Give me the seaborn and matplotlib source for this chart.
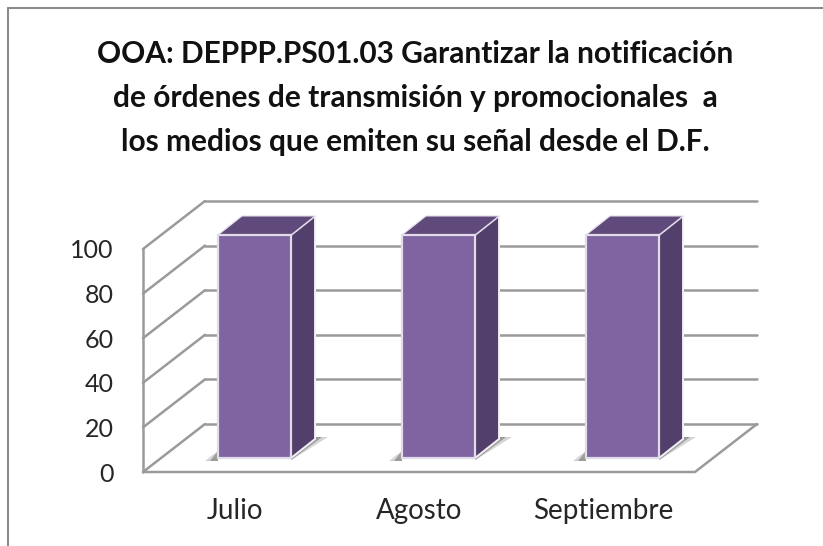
import matplotlib
matplotlib.use("Agg")
import matplotlib.pyplot as plt
import seaborn as sns
from matplotlib.patches import Polygon
from matplotlib.transforms import Affine2D

# === DATA ===
months = ["Julio", "Agosto", "Septiembre"]
values = [100, 100, 100]
y_ticks = [0, 20, 40, 60, 80, 100]
title = ("OOA: DEPPP.PS01.03 Garantizar la notificación\n"
         "de órdenes de transmisión y promocionales  a\n"
         "los medios que emiten su señal desde el D.F.")

# Colours
front_col = "#8063a1"
top_col = "#5f4a7b"
side_col = "#533f6b"
edge_col = "#e2dcea"
grid_col = "#9a9a9a"
text_col = "#262626"

W, H = 823, 546

sns.set_theme(style="white")
plt.rcParams["font.family"] = ["Lato", "DejaVu Sans"]

fig = plt.figure(figsize=(W / 100, H / 100), dpi=100)
# axes is the front plane of the 3D box
ax = fig.add_axes([143 / W, 1 - 472 / H, 552 / W, 223 / H])

sns.barplot(x=months, y=values, color=front_col, saturation=1, width=0.397,
            edgecolor=edge_col, linewidth=1.6, ax=ax, zorder=5)
ax.set_xlim(-0.5, 2.5)
ax.set_ylim(0, 100)
ax.set_yticks(y_ticks)
ax.set_xlabel("")
ax.set_ylabel("")
ax.tick_params(axis="x", length=0, pad=19, labelsize=20, labelcolor=text_col)
ax.tick_params(axis="y", length=0, pad=21, labelsize=18, labelcolor=text_col)
sns.despine(ax=ax, left=True, bottom=True)

# pixel shifts for depth
bar_shift = ax.transData + Affine2D().translate(19.5, 14)
back_shift = ax.transData + Affine2D().translate(62, 48)
px_x = 3 / 552
px_y = 100 / 223

# back wall and left wall lines
for t in y_ticks:
    ax.plot([-0.5, 2.5], [t, t], color=grid_col, lw=1.8, transform=back_shift,
            clip_on=False, zorder=1)
    ax.plot([-0.5, -0.5 + 62 * px_x], [t, t + 48 * px_y], color=grid_col, lw=1.8,
            clip_on=False, zorder=1)
ax.plot([-0.5, -0.5], [0, 100], color=grid_col, lw=1.8, clip_on=False, zorder=2)
ax.plot([-0.5, 2.5, 2.5 + 62 * px_x], [0, 0, 48 * px_y], color=grid_col, lw=1.8,
        clip_on=False, zorder=2)

# 3D faces and floor shadow of the bars
dx = 24 * px_x
dy = 19 * px_y
for bar in ax.patches[:3]:
    bar.set_transform(bar_shift)
    bar.set_clip_on(False)
    x0 = bar.get_x()
    x1 = x0 + bar.get_width()
    h = bar.get_height()
    # soft shadow, two layers
    for reach, grey in [(37, "#d4d4d4"), (31, "#9c9c9c")]:
        ax.add_patch(Polygon([(x1, -1), (x1 + reach * px_x, 21 * px_y), (x1 + dx, 21 * px_y),
                              (x1, 2)], closed=True, fc=grey, ec="none",
                             transform=bar_shift, clip_on=False, zorder=3))
    for reach, grey in [(13, "#d4d4d4"), (8, "#9c9c9c")]:
        ax.add_patch(Polygon([(x0 - reach * px_x, -1.2), (x0, -1.2), (x0, 3)],
                             closed=True, fc=grey, ec="none",
                             transform=bar_shift, clip_on=False, zorder=3))
    ax.add_patch(Polygon([(x1, 0), (x1 + dx, dy), (x1 + dx, h + dy), (x1, h)], closed=True,
                         fc=side_col, ec="#f2eff5", lw=1.4, transform=bar_shift,
                         clip_on=False, zorder=4))
    ax.add_patch(Polygon([(x0, h), (x1, h), (x1 + dx, h + dy), (x0 + dx, h + dy)], closed=True,
                         fc=top_col, ec=edge_col, lw=0.8, transform=bar_shift,
                         clip_on=False, zorder=4))

fig.text(415 / W, 1 - 98 / H, title, ha="center", va="center", fontsize=21.5,
         fontweight="bold", color="#111111", linespacing=1.7)

# frame of the screenshot
fig.add_artist(plt.Line2D([8 / W, 8 / W], [0, 1 - 8 / H], color="#8c8c8c", lw=1.5))
fig.add_artist(plt.Line2D([8 / W, 1], [1 - 8 / H, 1 - 8 / H], color="#8c8c8c", lw=1.5))

fig.savefig("out.png", dpi=100)
